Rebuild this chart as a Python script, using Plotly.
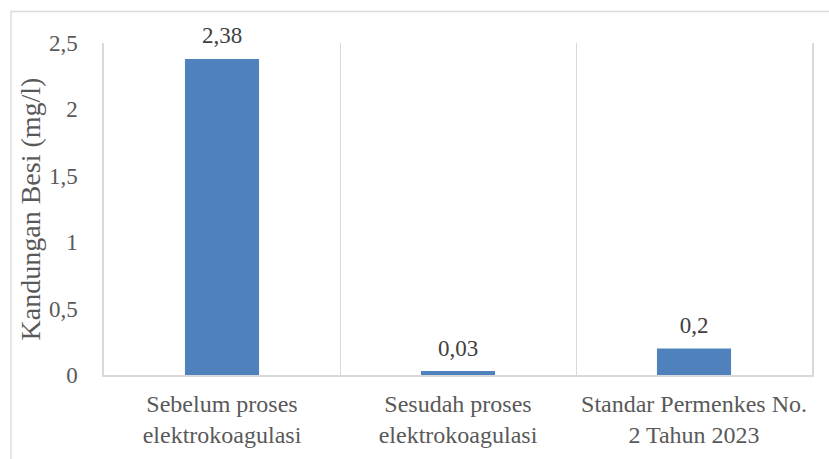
import plotly.graph_objects as go

# Iron content before/after electrocoagulation vs. the regulatory standard
categories = [
    "Sebelum proses<br>elektrokoagulasi",
    "Sesudah proses<br>elektrokoagulasi",
    "Standar Permenkes No.<br>2 Tahun 2023",
]
kandungan_besi = [2.38, 0.03, 0.2]
y_ticks = [0, 0.5, 1, 1.5, 2, 2.5]

labels = [f"{v:g}".replace(".", ",") for v in kandungan_besi]

FONT = "Liberation Serif, Times New Roman, serif"
TEXT = "#595959"
GRID = "#d9d9d9"

W, H = 829, 459
L, R, T, B = 104, 17, 43, 84
pw, ph = W - L - R, H - T - B

fig = go.Figure()
fig.add_trace(
    go.Bar(
        x=categories,
        y=kandungan_besi,
        marker=dict(color="#4f81bd", line=dict(width=0)),
        hoverinfo="x+y",
    )
)
# value labels sitting above each bar
fig.add_trace(
    go.Scatter(
        x=categories,
        y=kandungan_besi,
        mode="markers+text",
        marker=dict(size=14, opacity=0),
        text=labels,
        textposition="top center",
        cliponaxis=False,
        textfont=dict(family=FONT, size=23, color="#404040"),
        hoverinfo="skip",
    )
)

fig.update_layout(
    width=W,
    height=H,
    margin=dict(l=L, r=R, t=T, b=B, pad=0),
    paper_bgcolor="white",
    plot_bgcolor="white",
    separators=",.",
    bargap=0.686,
    showlegend=False,
    font=dict(family=FONT, color=TEXT),
    shapes=[
        # outer chart frame
        dict(
            type="rect",
            xref="paper",
            yref="paper",
            x0=(11 - L) / pw,
            x1=(W + 5 - L) / pw,
            y0=-(H + 5 - T - ph) / ph,
            y1=1 + (T - 11.5) / ph,
            line=dict(color=GRID, width=1.3),
            fillcolor="rgba(0,0,0,0)",
            layer="below",
        )
    ],
)

fig.update_xaxes(
    type="category",
    tickson="boundaries",
    showgrid=True,
    gridcolor=GRID,
    gridwidth=1,
    showline=True,
    linecolor=GRID,
    linewidth=1.5,
    ticks="",
    ticklabelstandoff=6,
    tickfont=dict(family=FONT, size=24, color=TEXT),
)

fig.update_yaxes(
    range=[0, 2.5],
    tickvals=y_ticks,
    showgrid=False,
    zeroline=False,
    showline=True,
    mirror=True,
    linecolor=GRID,
    linewidth=1.5,
    ticks="",
    ticklabelstandoff=20,
    tickfont=dict(family=FONT, size=23, color=TEXT),
    title=dict(
        text="Kandungan Besi (mg/l)",
        font=dict(family=FONT, size=28, color=TEXT),
        standoff=0,
    ),
)

fig.write_html("out.html")
